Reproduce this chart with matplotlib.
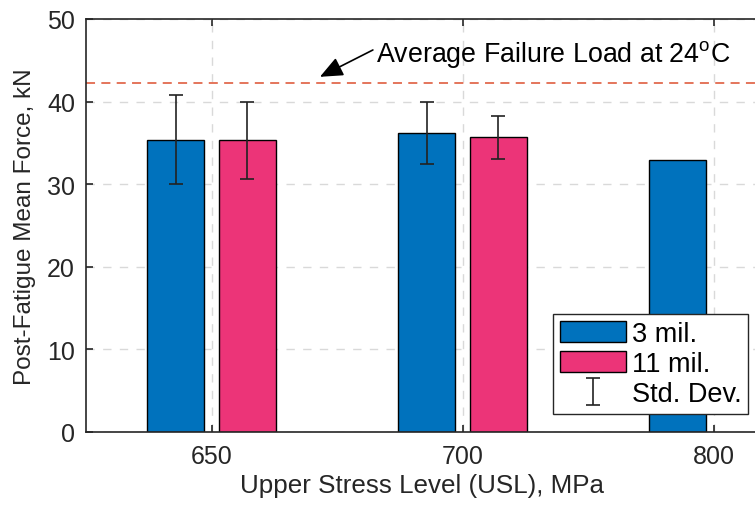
import matplotlib.pyplot as plt
import numpy as np

plt.rcParams['font.family'] = ['Liberation Sans', 'DejaVu Sans']

# upper stress levels (MPa) and post-fatigue mean force (kN)
usl = ['650', '700', '800']
mean_3mil = [35.4, 36.2, 32.9]
mean_11mil = [35.3, 35.7, np.nan]
std_3mil = [5.35, 3.8, np.nan]
std_11mil = [4.65, 2.6, np.nan]
avg_failure_24c = 42.3


def main():
    fig = plt.figure(figsize=(7.55, 5.10), dpi=100)
    # right edge of the axes sits just past the figure border
    ax = fig.add_axes([86 / 755, 77 / 510, 672 / 755, 413 / 510])

    x = np.arange(1, len(usl) + 1)
    off, w = 0.143, 0.228
    txt = '#262626'

    for vals, errs, dx, col, lab in [(mean_3mil, std_3mil, -off, '#0072BD', '3 mil.'),
                                     (mean_11mil, std_11mil, off, '#EC3478', '11 mil.')]:
        vals = np.asarray(vals)
        errs = np.asarray(errs)
        ok = np.isfinite(vals)
        ax.bar(x[ok] + dx, vals[ok], w, color=col, edgecolor='black', linewidth=1.0,
               label=lab, zorder=2)
        ok_e = np.isfinite(errs)
        eb = ax.errorbar(x[ok_e] + dx, vals[ok_e], yerr=errs[ok_e], fmt='none',
                         ecolor='#222222', elinewidth=1.2, capsize=5, capthick=1.2, zorder=3)
    eb.set_label('Std. Dev.')

    # average failure load line, arrow and note
    ax.axhline(avg_failure_24c, color='#E26A4E', lw=1.3, linestyle=(0, (5, 3.5)), zorder=2)
    ax.annotate('', xy=(1.432, 43.0), xytext=(1.643, 46.25),
                arrowprops=dict(arrowstyle='-|>,head_length=0.7,head_width=0.3',
                                mutation_scale=20, color='black', lw=1.2,
                                shrinkA=0, shrinkB=0))
    ax.text(1.655, 44.9, 'Average Failure Load at 24$^\\mathregular{o}$C',
            ha='left', va='baseline', fontsize=19.3, color='black')

    ax.set_xlim(0.5, 0.5 + 672 / 251)
    ax.set_ylim(0, 50)
    ax.set_xticks(x)
    ax.set_xticklabels(usl)
    ax.set_yticks(np.arange(0, 51, 10))

    ax.set_axisbelow(True)
    ax.grid(True, color='#d9d9d9', lw=1.0, linestyle=(0, (6, 6)))
    for sp in ax.spines.values():
        sp.set_color(txt)
        sp.set_linewidth(1.2)
    ax.spines['right'].set_visible(False)
    ax.tick_params(direction='in', length=5, width=1.2, color=txt, top=True, right=False,
                   labelsize=18, labelcolor=txt)
    ax.tick_params(axis='x', pad=9)
    ax.tick_params(axis='y', pad=8)

    ax.set_xlabel('Upper Stress Level (USL), MPa', fontsize=18.7, color=txt, labelpad=3)
    ax.set_ylabel('Post-Fatigue Mean Force, kN', fontsize=17.5, color=txt, labelpad=8)

    h, l = ax.get_legend_handles_labels()
    order = [l.index('3 mil.'), l.index('11 mil.'), l.index('Std. Dev.')]
    leg = ax.legend([h[i] for i in order], [l[i] for i in order],
                    loc='lower left', bbox_to_anchor=(553 / 755, 95 / 510),
                    bbox_transform=fig.transFigure, borderaxespad=0,
                    fontsize=19.5, handlelength=2.45, handleheight=0.85, labelspacing=0.15,
                    handletextpad=0.2, borderpad=0.25, fancybox=False, framealpha=1)
    leg.get_frame().set_edgecolor(txt)
    leg.get_frame().set_linewidth(1.0)

    fig.savefig('out.png', dpi=100)


if __name__ == '__main__':
    main()
